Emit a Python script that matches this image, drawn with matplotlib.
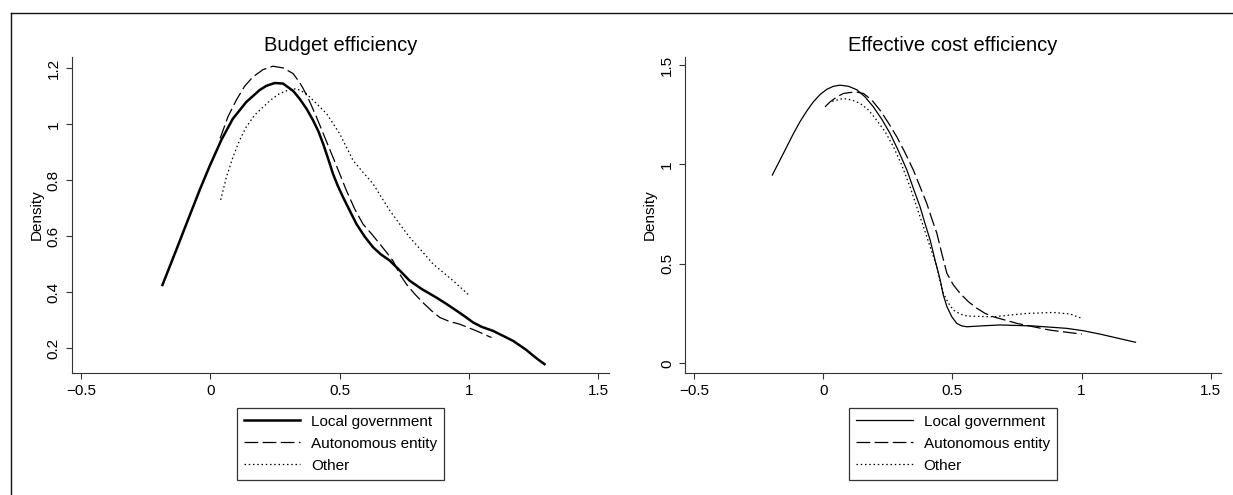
from matplotlib import pyplot as plt
from matplotlib.lines import Line2D
import numpy as np

plt.rcParams['font.family'] = ['Liberation Sans', 'DejaVu Sans']

# Budget efficiency (kernel density curves)
be_local_x = [-0.185, -0.13, -0.093, -0.04, -0.003, 0.043, 0.087, 0.139, 0.191, 0.217, 0.249, 0.281,
              0.32, 0.345, 0.372, 0.397, 0.418, 0.436, 0.455, 0.474, 0.493, 0.513, 0.54, 0.565,
              0.596, 0.629, 0.66, 0.694, 0.73, 0.771, 0.82, 0.874, 0.91, 0.952, 0.985, 1.016,
              1.05, 1.093, 1.13, 1.171, 1.22, 1.25, 1.274, 1.292]
be_local_y = [0.426, 0.555, 0.643, 0.768, 0.85, 0.945, 1.02, 1.08, 1.123, 1.138, 1.148, 1.146,
              1.12, 1.092, 1.056, 1.015, 0.975, 0.931, 0.879, 0.824, 0.78, 0.740, 0.69, 0.644,
              0.6, 0.561, 0.535, 0.513, 0.48, 0.441, 0.41, 0.381, 0.36, 0.334, 0.313, 0.292,
              0.276, 0.262, 0.245, 0.226, 0.195, 0.172, 0.155, 0.143]
be_auto_x = [0.038, 0.068, 0.1, 0.133, 0.165, 0.204, 0.242, 0.281, 0.32, 0.345, 0.358, 0.384,
             0.41, 0.442, 0.474, 0.5, 0.526, 0.558, 0.59, 0.623, 0.655, 0.681, 0.706, 0.732,
             0.758, 0.79, 0.822, 0.855, 0.887, 0.926, 0.964, 1.029, 1.087]
be_auto_y = [0.95, 1.027, 1.086, 1.137, 1.17, 1.196, 1.208, 1.202, 1.182, 1.15, 1.13, 1.082,
             1.027, 0.955, 0.883, 0.824, 0.764, 0.698, 0.644, 0.609, 0.573, 0.543, 0.513, 0.465,
             0.429, 0.394, 0.363, 0.334, 0.310, 0.295, 0.286, 0.262, 0.238]
be_other_x = [0.04, 0.062, 0.0875, 0.113, 0.139, 0.171, 0.204, 0.236, 0.268, 0.3, 0.333, 0.371,
              0.41, 0.449, 0.5, 0.526, 0.552, 0.59, 0.629, 0.661, 0.694, 0.732, 0.771, 0.816,
              0.861, 0.9, 0.939, 1.003]
be_other_y = [0.730, 0.811, 0.883, 0.943, 0.991, 1.033, 1.062, 1.089, 1.11, 1.122, 1.128, 1.110,
              1.075, 1.039, 0.967, 0.919, 0.871, 0.829, 0.788, 0.740, 0.692, 0.644, 0.596, 0.549,
              0.501, 0.471, 0.441, 0.387]

# Effective cost efficiency
ec_local_x = [-0.197, -0.154, -0.115, -0.089, -0.063, -0.038, -0.012, 0.014, 0.039, 0.065, 0.098,
              0.130, 0.162, 0.194, 0.227, 0.259, 0.291, 0.324, 0.349, 0.375, 0.394, 0.414, 0.433,
              0.453, 0.465, 0.479, 0.498, 0.517, 0.537, 0.556, 0.62, 0.685, 0.814, 0.943, 1.007,
              1.072, 1.209]
ec_local_y = [0.947, 1.056, 1.156, 1.217, 1.27, 1.315, 1.352, 1.378, 1.393, 1.399, 1.393,
              1.376, 1.340, 1.290, 1.227, 1.156, 1.069, 0.972, 0.880, 0.787, 0.704, 0.620, 0.519,
              0.419, 0.343, 0.285, 0.234, 0.201, 0.188, 0.184, 0.189, 0.193, 0.188, 0.176, 0.164,
              0.147, 0.106]
ec_auto_x = [0.007, 0.027, 0.053, 0.078, 0.104, 0.130, 0.156, 0.188, 0.22, 0.252, 0.285, 0.317,
             0.349, 0.375, 0.401, 0.42, 0.44, 0.459, 0.479, 0.504, 0.53, 0.562, 0.595, 0.627,
             0.659, 0.75, 0.814, 0.878, 1.001]
ec_auto_y = [1.29, 1.315, 1.340, 1.357, 1.362, 1.364, 1.357, 1.324, 1.273, 1.21, 1.139, 1.059,
             0.972, 0.888, 0.804, 0.729, 0.654, 0.553, 0.452, 0.394, 0.352, 0.31, 0.277, 0.251,
             0.234, 0.201, 0.184, 0.167, 0.147]
ec_other_x = [0.035, 0.078, 0.111, 0.143, 0.175, 0.207, 0.24, 0.272, 0.304, 0.336, 0.362, 0.388,
              0.414, 0.44, 0.453, 0.465, 0.485, 0.504, 0.53, 0.556, 0.659, 0.724, 0.788, 0.891,
              0.956, 1.001]
ec_other_y = [1.318, 1.332, 1.324, 1.307, 1.274, 1.223, 1.164, 1.089, 0.997, 0.888, 0.787, 0.687,
              0.586, 0.486, 0.410, 0.352, 0.302, 0.268, 0.248, 0.238, 0.234, 0.243, 0.251, 0.256,
              0.248, 0.226]

labels = ['Local government', 'Autonomous entity', 'Other']
xticks = [-0.5, 0, 0.5, 1, 1.5]
xticklabels = ['\u22120.5', '0', '0.5', '1', '1.5']

fig = plt.figure(figsize=(12.33, 4.95), dpi=100)
ax1 = fig.add_axes([0.05831, 0.24707, 0.43536, 0.63838])
ax2 = fig.add_axes([0.55556, 0.24707, 0.43471, 0.63838])


def style(ax, series, title, yticks, yticklabels, ylim, lw_local):
    ax.plot(*series[0], color='black', lw=lw_local, label=labels[0])
    ax.plot(*series[1], color='black', lw=0.9, dashes=(11, 3.5), label=labels[1])
    ax.plot(*series[2], color='black', lw=0.9, dashes=(1.2, 2.2), label=labels[2])
    ax.set_xlim(-0.535, 1.54)
    ax.set_ylim(*ylim)
    ax.set_xticks(xticks)
    ax.set_xticklabels(xticklabels)
    ax.set_yticks(yticks)
    ax.set_yticklabels(yticklabels, rotation=90, va='center')
    ax.tick_params(axis='both', direction='out', length=4.5, width=0.8, pad=3.5,
                   labelsize=11, color='#333333')
    for s in ['top', 'right']:
        ax.spines[s].set_visible(False)
    for s in ['left', 'bottom']:
        ax.spines[s].set_linewidth(0.8)
        ax.spines[s].set_color('#333333')
    ax.set_ylabel('Density', fontsize=11, labelpad=2)
    ax.set_title(title, fontsize=14.5, pad=4)
    leg = ax.legend(loc='upper center', bbox_to_anchor=(0.5, -0.111), ncol=1, fontsize=11,
                    frameon=True, fancybox=False, edgecolor='black', handlelength=3.7,
                    handletextpad=0.7, borderpad=0.45, labelspacing=0.53, borderaxespad=0)
    leg.get_frame().set_linewidth(0.9)


style(ax1, [(be_local_x, be_local_y), (be_auto_x, be_auto_y), (be_other_x, be_other_y)],
      'Budget efficiency', [0.2, 0.4, 0.6, 0.8, 1, 1.2],
      ['0.2', '0.4', '0.6', '0.8', '1', '1.2'], (0.1125, 1.242), 1.8)

style(ax2, [(ec_local_x, ec_local_y), (ec_auto_x, ec_auto_y), (ec_other_x, ec_other_y)],
      'Effective cost efficiency', [0, 0.5, 1, 1.5],
      ['0', '0.5', '1', '1.5'], (-0.047, 1.542), 0.9)

# outer frame (cropped)
fx = 10.7 / 1233
fy = 1 - 12.7 / 495
fig.add_artist(Line2D([fx, 1], [fy, fy], transform=fig.transFigure, color='#111111', lw=1.0))
fig.add_artist(Line2D([fx, fx], [0, fy], transform=fig.transFigure, color='#111111', lw=1.0))

fig.savefig('out.png', dpi=100)
